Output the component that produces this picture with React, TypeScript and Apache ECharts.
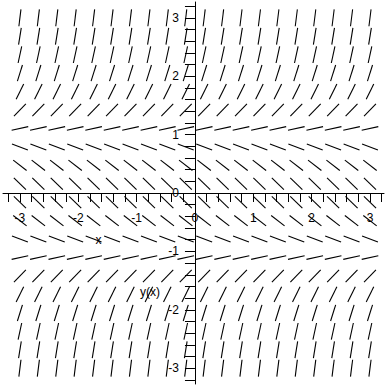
import React, { useEffect, useRef } from "react";
import * as echarts from "echarts";

// Grid of the direction field (20 x 20 points from -3 to 3)
const xPoints = [
  -3, -2.684, -2.368, -2.053, -1.737, -1.421, -1.105, -0.789, -0.474, -0.158,
  0.158, 0.474, 0.789, 1.105, 1.421, 1.737, 2.053, 2.368, 2.684, 3,
];
const yPoints = [
  -3, -2.684, -2.368, -2.053, -1.737, -1.421, -1.105, -0.789, -0.474, -0.158,
  0.158, 0.474, 0.789, 1.105, 1.421, 1.737, 2.053, 2.368, 2.684, 3,
];
// slope dy/dx for each row (same for all columns), read from the field
const rowSlopes = [
  8.0, 6.2, 4.61, 3.21, 2.02, 1.02, 0.22, -0.38, -0.78, -0.98,
  -0.98, -0.78, -0.38, 0.22, 1.02, 2.02, 3.21, 4.61, 6.2, 8.0,
];
const tickValues = [
  -3.2, -3, -2.8, -2.6, -2.4, -2.2, -2, -1.8, -1.6, -1.4, -1.2, -1, -0.8, -0.6,
  -0.4, -0.2, 0, 0.2, 0.4, 0.6, 0.8, 1, 1.2, 1.4, 1.6, 1.8, 2, 2.2, 2.4, 2.6,
  2.8, 3, 3.2,
];
const labelValues = [-3, -2, -1, 0, 1, 2, 3];

const SEG_LEN = 17;
const FONT = "'Liberation Sans', Arial, sans-serif";

const GRID_LEFT = 3;
const GRID_RIGHT = 1;
const GRID_TOP = 2;
const GRID_BOTTOM = 2;
const X_MIN = -3.29;
const X_MAX = 3.24;
const Y_MIN = -3.27;
const Y_MAX = 3.27;

export default function App() {
  const ref = useRef<HTMLDivElement>(null);
  useEffect(() => {
    if (!ref.current) return;
    const chart = echarts.init(ref.current, undefined, { renderer: "svg" });
    const W = 385;
    const H = 386;
    const gw = W - GRID_LEFT - GRID_RIGHT;
    const gh = H - GRID_TOP - GRID_BOTTOM;
    // pixel distance from grid edge to the zero line, used to put axes through origin
    const xZeroFromLeft = ((0 - X_MIN) / (X_MAX - X_MIN)) * gw;
    const yZeroFromBottom = ((0 - Y_MIN) / (Y_MAX - Y_MIN)) * gh;
    const data: number[][] = [];
    yPoints.forEach((y, j) => {
      xPoints.forEach((x) => {
        data.push([x, y, rowSlopes[j]]);
      });
    });
    chart.setOption({
      animation: false,
      backgroundColor: "#fff",
      grid: {
        left: GRID_LEFT,
        right: GRID_RIGHT,
        top: GRID_TOP,
        bottom: GRID_BOTTOM,
        containLabel: false,
        outerBoundsMode: "none",
      },
      xAxis: {
        type: "value",
        position: "bottom",
        min: X_MIN,
        max: X_MAX,
        offset: -yZeroFromBottom,
        splitLine: { show: false },
        axisLine: { onZero: false, lineStyle: { color: "#000", width: 1 } },
        axisTick: {
          show: true,
          length: 9,
          customValues: tickValues,
          lineStyle: { color: "#000", width: 1 },
        },
        axisLabel: {
          customValues: labelValues,
          margin: 19,
          color: "#000",
          fontSize: 12,
          fontFamily: FONT,
          hideOverlap: false,
        },
      },
      yAxis: {
        type: "value",
        position: "left",
        min: Y_MIN,
        max: Y_MAX,
        offset: -xZeroFromLeft,
        splitLine: { show: false },
        axisLine: { onZero: false, lineStyle: { color: "#000", width: 1 } },
        axisTick: {
          show: true,
          length: 10,
          customValues: tickValues,
          lineStyle: { color: "#000", width: 1 },
        },
        axisLabel: {
          customValues: labelValues,
          margin: 16,
          color: "#000",
          fontSize: 12,
          fontFamily: FONT,
          hideOverlap: false,
        },
      },
      graphic: [
        {
          type: "text",
          x: 98.5,
          y: 239.5,
          style: {
            text: "x",
            fill: "#000",
            font: `12px ${FONT}`,
            align: "center",
            verticalAlign: "middle",
          },
        },
        {
          type: "text",
          x: 150,
          y: 292,
          style: {
            text: "y(x)",
            fill: "#000",
            font: `12px ${FONT}`,
            align: "center",
            verticalAlign: "middle",
          },
        },
      ],
      series: [
        {
          type: "custom",
          clip: false,
          encode: { x: 0, y: 1 },
          data,
          renderItem: (params: any, api: any) => {
            const x = api.value(0);
            const y = api.value(1);
            const s = api.value(2);
            const c = api.coord([x, y]);
            const p = api.coord([x + 0.1, y + 0.1 * s]);
            let dx = p[0] - c[0];
            let dy = p[1] - c[1];
            const n = Math.hypot(dx, dy) || 1;
            dx = (dx / n) * (SEG_LEN / 2);
            dy = (dy / n) * (SEG_LEN / 2);
            return {
              type: "line",
              shape: { x1: c[0] - dx, y1: c[1] - dy, x2: c[0] + dx, y2: c[1] + dy },
              style: { stroke: "#000", lineWidth: 1.1 },
            };
          },
        },
      ],
    });
    return () => chart.dispose();
  }, []);
  return (
    <div
      ref={ref}
      style={{ position: "fixed", left: 0, top: 0, width: 385, height: 386, background: "#fff" }}
    />
  );
}
